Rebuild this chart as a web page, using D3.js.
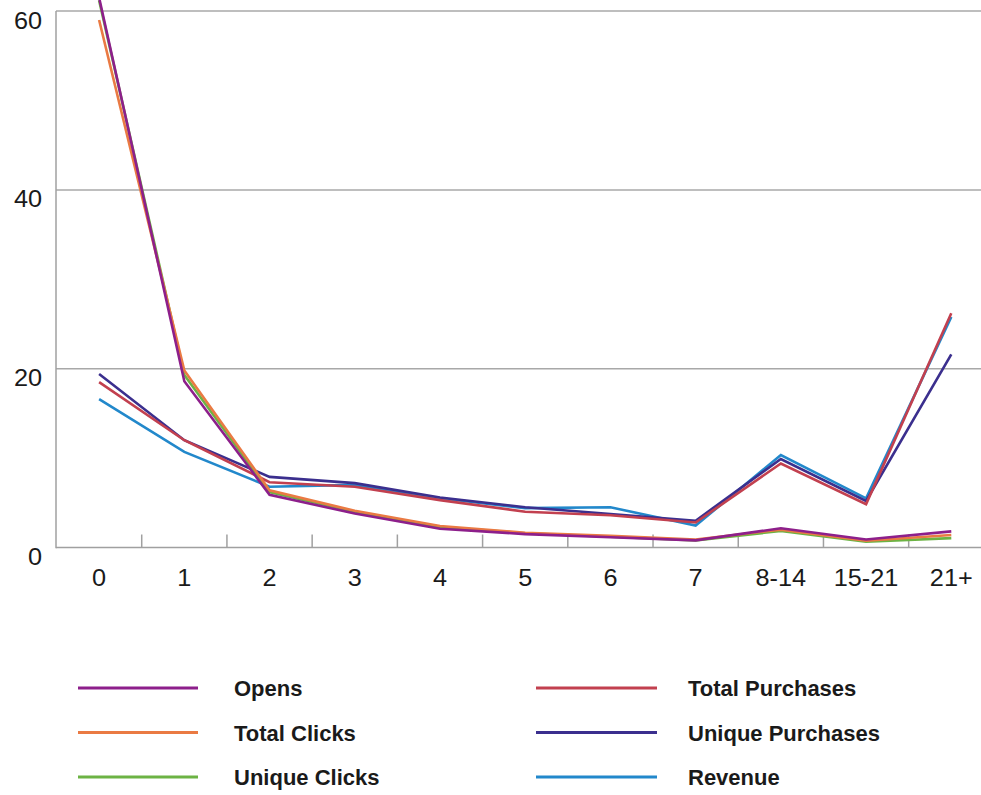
<!DOCTYPE html>
<html>
<head>
<meta charset="utf-8">
<script src="https://cdn.jsdelivr.net/npm/d3@7"></script>
<style>
  html, body { margin: 0; padding: 0; background: #fff; }
  svg { display: block; }
  text { font-family: "Liberation Sans", Arial, Helvetica, sans-serif; fill: #1a1a1a; }
</style>
</head>
<body>
<svg id="chart" width="981" height="795"></svg>
<script>
// ---- data ----
const categories = ["0", "1", "2", "3", "4", "5", "6", "7", "8-14", "15-21", "21+"];
const yTicks = [0, 20, 40, 60];

const opens           = [61.5, 18.6, 5.9, 3.8, 2.1, 1.5, 1.15, 0.8, 2.15, 0.9, 1.8];
const totalClicks     = [59.0, 19.8, 6.4, 4.1, 2.4, 1.65, 1.3, 0.9, 2.0, 0.75, 1.4];
const uniqueClicks    = [61.2, 19.3, 6.2, 4.0, 2.3, 1.6, 1.2, 0.8, 1.85, 0.65, 1.05];
const totalPurchases  = [18.5, 12.0, 7.3, 6.8, 5.3, 4.0, 3.6, 2.8, 9.4, 4.85, 26.2];
const uniquePurchases = [19.4, 12.0, 7.9, 7.2, 5.6, 4.5, 3.75, 3.0, 9.9, 5.2, 21.6];
const revenue         = [16.6, 10.7, 6.8, 7.0, 5.5, 4.4, 4.5, 2.45, 10.35, 5.5, 25.8];

const seriesNames  = ["Opens", "Total Clicks", "Unique Clicks", "Total Purchases", "Unique Purchases", "Revenue"];
const seriesValues = [opens, totalClicks, uniqueClicks, totalPurchases, uniquePurchases, revenue];
const seriesColors = ["#8d1f8b", "#ea7a43", "#6cb344", "#c2404f", "#3b2f8e", "#2288cb"];

// ---- layout ----
const svg = d3.select("#chart");
const W = 981;
const x = d3.scaleBand().domain(categories).range([56.5, 993.9]).padding(0);
const y = d3.scaleLinear().domain([0, 60]).range([547.5, 11.1]);
const cx = c => x(c) + x.bandwidth() / 2;
const stretch = 1.1;

// gridlines
svg.append("g").selectAll("line")
  .data(yTicks.filter(v => v > 0))
  .join("line")
  .attr("x1", 56).attr("x2", W)
  .attr("y1", d => y(d)).attr("y2", d => y(d))
  .attr("stroke", "#a8a8a8").attr("stroke-width", 1.5);

// y axis
const yAxis = svg.append("g").attr("transform", "translate(56,0)")
  .call(d3.axisLeft(y).tickValues(yTicks).tickSize(0).tickPadding(14).tickFormat(d3.format("d")));
yAxis.select(".domain").remove();
yAxis.selectAll("text")
  .attr("x", -14 / stretch)
  .attr("dy", "17px")
  .attr("transform", `scale(${stretch},1)`)
  .attr("font-size", 23)
  .style("font-family", '"Liberation Sans", Arial, sans-serif')
  .attr("fill", "#1a1a1a");
svg.append("line")
  .attr("x1", 56).attr("x2", 56).attr("y1", y(60)).attr("y2", y(0) + 0.75)
  .attr("stroke", "#a0a0a0").attr("stroke-width", 1.5);

// x axis
const xAxis = svg.append("g").attr("transform", `translate(0,${y(0)})`)
  .call(d3.axisBottom(x).tickSize(0).tickPadding(0));
xAxis.select(".domain").remove();
xAxis.selectAll("text")
  .attr("y", 39).attr("dy", 0)
  .attr("transform", `scale(${stretch},1)`)
  .attr("font-size", 23)
  .style("font-family", '"Liberation Sans", Arial, sans-serif')
  .attr("fill", "#1a1a1a");
svg.append("line")
  .attr("x1", 56).attr("x2", W).attr("y1", y(0)).attr("y2", y(0))
  .attr("stroke", "#a0a0a0").attr("stroke-width", 1.5);
// boundary tick marks
svg.append("g").selectAll("line")
  .data(categories.slice(1))
  .join("line")
  .attr("x1", d => x(d)).attr("x2", d => x(d))
  .attr("y1", y(0)).attr("y2", y(0) - 13)
  .attr("stroke", "#a0a0a0").attr("stroke-width", 1.5);

// lines (draw order so purple ends on top at start, red above blue)
const line = d3.line().x((d, i) => cx(categories[i])).y(d => y(d));
const drawOrder = [5, 4, 3, 2, 1, 0];
svg.append("g").selectAll("path")
  .data(drawOrder)
  .join("path")
  .attr("d", k => line(seriesValues[k]))
  .attr("fill", "none")
  .attr("stroke", k => seriesColors[k])
  .attr("stroke-width", 2.6)
  .attr("stroke-linejoin", "miter");

// legend
const legendCols = [{lx1: 78, lx2: 198, tx: 234}, {lx1: 536, lx2: 657, tx: 688}];
const legendRows = [688, 732.5, 777];
const lg = svg.append("g").selectAll("g")
  .data(seriesNames.map((n, i) => ({n, i})))
  .join("g")
  .attr("transform", d => `translate(0,${legendRows[d.i % 3]})`);
lg.append("line")
  .attr("x1", d => legendCols[Math.floor(d.i / 3)].lx1)
  .attr("x2", d => legendCols[Math.floor(d.i / 3)].lx2)
  .attr("stroke", d => seriesColors[d.i])
  .attr("stroke-width", 3);
lg.append("text")
  .attr("x", d => legendCols[Math.floor(d.i / 3)].tx)
  .attr("y", 8)
  .attr("font-size", 22)
  .attr("font-weight", "bold")
  .text(d => d.n);
</script>
</body>
</html>
